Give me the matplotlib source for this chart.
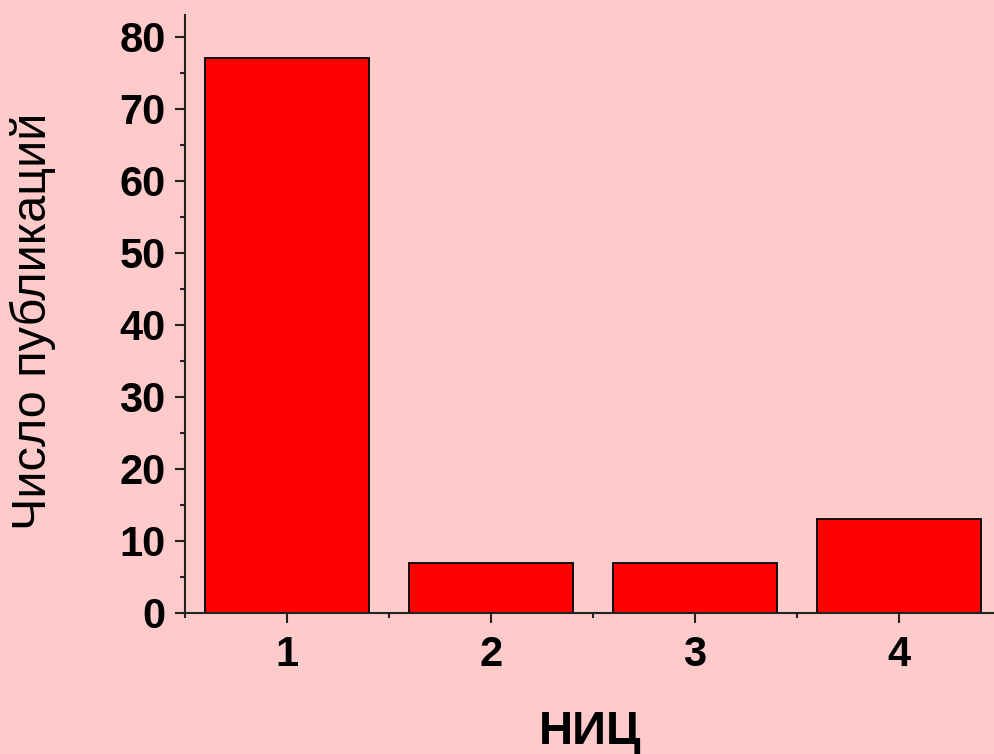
import matplotlib
matplotlib.use("Agg")
import matplotlib.pyplot as plt
from matplotlib.ticker import MultipleLocator

# data
centres = ["1", "2", "3", "4"]
publications = [77, 7, 7, 13]
y_ticks = [0, 10, 20, 30, 40, 50, 60, 70, 80]

bg = "#ffcaca"
plt.rcParams["font.family"] = ["Liberation Sans", "DejaVu Sans"]

fig = plt.figure(figsize=(9.95, 7.54), dpi=100, facecolor=bg)
# axis runs past the right edge of the picture, as in the original
ax = fig.add_axes([185 / 995, 141 / 754, 816 / 995, 598 / 754])
ax.set_facecolor(bg)

x = [int(c) for c in centres]
ax.bar(x, publications, width=0.8, color="#ff0000", edgecolor="black", linewidth=1.3)

ax.set_xlim(0.5, 4.5)
ax.set_ylim(0, 83)
ax.set_xticks(x)
ax.set_xticklabels(centres)
ax.set_yticks(y_ticks)
ax.xaxis.set_minor_locator(MultipleLocator(0.5))
ax.yaxis.set_minor_locator(MultipleLocator(5))

for side in ["top", "right"]:
    ax.spines[side].set_visible(False)
for side in ["left", "bottom"]:
    ax.spines[side].set_linewidth(1.5)
    ax.spines[side].set_color("#222222")

ax.tick_params(which="major", length=7, width=1.5, color="#222222")
ax.tick_params(which="minor", length=3.5, width=1.5, color="#222222")
ax.tick_params(axis="y", which="major", pad=7)
ax.tick_params(axis="x", which="major", pad=9)
for lbl in ax.get_xticklabels() + ax.get_yticklabels():
    lbl.set_fontsize(30)
    lbl.set_fontweight("bold")

fig.text(33 / 995, 1 - 321 / 754, "Число публикаций", rotation=90,
         fontsize=35, ha="center", va="center")
fig.text(590 / 995, 1 - 710 / 754, "НИЦ", fontsize=34, fontweight="bold",
         ha="center", va="top")

fig.savefig("out.png", dpi=100, facecolor=bg)
